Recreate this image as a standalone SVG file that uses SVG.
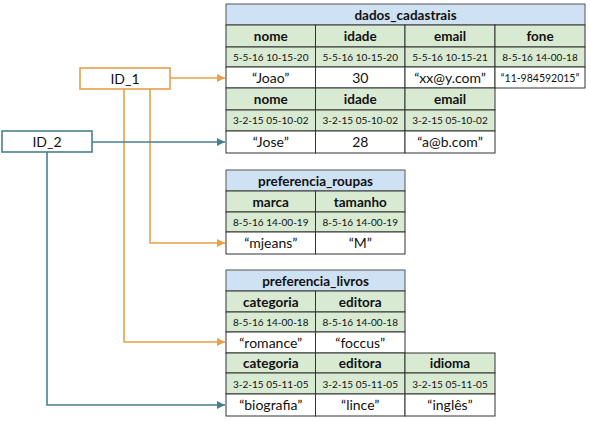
<svg xmlns="http://www.w3.org/2000/svg" width="591" height="421" viewBox="0 0 591 421">
<defs>
<style>
.t{fill:#cfe2f3;stroke:#555;stroke-width:1}
.h{fill:#d9ead3;stroke:#333;stroke-width:1}
.v{fill:#fff;stroke:#333;stroke-width:1}
text{font-family:Lato,"Open Sans","Liberation Sans",sans-serif;text-anchor:middle;fill:#111}
.b{font-weight:bold;font-size:13.5px}
.s{font-size:10px}
.n{font-size:14px}
.f{font-size:10.5px}
.o{stroke:#e8a04a;stroke-width:1.6;fill:none}
.g{stroke:#4a7f8f;stroke-width:1.6;fill:none}
</style>
<marker id="ao" viewBox="0 0 10 10" refX="10" refY="5" markerWidth="10" markerHeight="8" markerUnits="userSpaceOnUse" orient="auto"><path d="M0,0L10,5L0,10z" fill="#e8a04a"/></marker>
<marker id="ag" viewBox="0 0 10 10" refX="10" refY="5" markerWidth="10" markerHeight="8" markerUnits="userSpaceOnUse" orient="auto"><path d="M0,0L10,5L0,10z" fill="#4a7f8f"/></marker>
</defs>

<g id="connectors">
<path class="o" d="M170,78H225" marker-end="url(#ao)"/>
<path class="o" d="M150,89V243H225" marker-end="url(#ao)"/>
<path class="o" d="M124,89V342H225" marker-end="url(#ao)"/>
<path class="g" d="M92,142H225" marker-end="url(#ag)"/>
<path class="g" d="M47,152V405H225" marker-end="url(#ag)"/>
</g>

<g id="ID_1">
<rect x="80" y="68" width="90" height="21" fill="#fff" stroke="#e8a04a" stroke-width="1.6"/>
<text class="n" x="125" y="83.5">ID_1</text>
</g>
<g id="ID_2">
<rect x="2" y="131" width="90" height="21" fill="#fff" stroke="#4a7f8f" stroke-width="1.6"/>
<text class="n" x="47" y="146.5">ID_2</text>
</g>

<g id="dados_cadastrais">
<rect class="t" x="226" y="4" width="359" height="21"/>
<text class="b" x="405.5" y="19.5">dados_cadastrais</text>
<rect class="h" x="226" y="25" width="89.5" height="22"/>
<rect class="h" x="315.5" y="25" width="89.5" height="22"/>
<rect class="h" x="405" y="25" width="90" height="22"/>
<rect class="h" x="495" y="25" width="90" height="22"/>
<text class="b" x="270.75" y="41">nome</text>
<text class="b" x="360.25" y="41">idade</text>
<text class="b" x="450" y="41">email</text>
<text class="b" x="540" y="41">fone</text>
<rect class="h" x="226" y="47" width="89.5" height="20"/>
<rect class="h" x="315.5" y="47" width="89.5" height="20"/>
<rect class="h" x="405" y="47" width="90" height="20"/>
<rect class="h" x="495" y="47" width="90" height="20"/>
<text class="s" x="270.75" y="61">5-5-16 10-15-20</text>
<text class="s" x="360.25" y="61">5-5-16 10-15-20</text>
<text class="s" x="450" y="61">5-5-16 10-15-21</text>
<text class="s" x="540" y="61">8-5-16 14-00-18</text>
<rect class="v" x="226" y="67" width="89.5" height="21"/>
<rect class="v" x="315.5" y="67" width="89.5" height="21"/>
<rect class="v" x="405" y="67" width="90" height="21"/>
<rect class="v" x="495" y="67" width="90" height="21"/>
<text class="n" x="270.75" y="82.5">“Joao”</text>
<text class="n" x="360.25" y="82.5">30</text>
<text class="n" x="450" y="82.5">“xx@y.com”</text>
<text class="f" x="540" y="81.5">“11-984592015”</text>
<rect class="h" x="226" y="88" width="89.5" height="22"/>
<rect class="h" x="315.5" y="88" width="89.5" height="22"/>
<rect class="h" x="405" y="88" width="90" height="22"/>
<text class="b" x="270.75" y="104">nome</text>
<text class="b" x="360.25" y="104">idade</text>
<text class="b" x="450" y="104">email</text>
<rect class="h" x="226" y="110" width="89.5" height="21"/>
<rect class="h" x="315.5" y="110" width="89.5" height="21"/>
<rect class="h" x="405" y="110" width="90" height="21"/>
<text class="s" x="270.75" y="124">3-2-15 05-10-02</text>
<text class="s" x="360.25" y="124">3-2-15 05-10-02</text>
<text class="s" x="450" y="124">3-2-15 05-10-02</text>
<rect class="v" x="226" y="131" width="89.5" height="22"/>
<rect class="v" x="315.5" y="131" width="89.5" height="22"/>
<rect class="v" x="405" y="131" width="90" height="22"/>
<text class="n" x="270.75" y="147">“Jose”</text>
<text class="n" x="360.25" y="147">28</text>
<text class="n" x="450" y="147">“a@b.com”</text>
</g>

<g id="preferencia_roupas">
<rect class="t" x="226" y="170" width="179" height="21"/>
<text class="b" x="315.5" y="185.5">preferencia_roupas</text>
<rect class="h" x="226" y="191" width="89.5" height="21"/>
<rect class="h" x="315.5" y="191" width="89.5" height="21"/>
<text class="b" x="270.75" y="206.5">marca</text>
<text class="b" x="360.25" y="206.5">tamanho</text>
<rect class="h" x="226" y="212" width="89.5" height="20"/>
<rect class="h" x="315.5" y="212" width="89.5" height="20"/>
<text class="s" x="270.75" y="226">8-5-16 14-00-19</text>
<text class="s" x="360.25" y="226">8-5-16 14-00-19</text>
<rect class="v" x="226" y="232" width="89.5" height="22"/>
<rect class="v" x="315.5" y="232" width="89.5" height="22"/>
<text class="n" x="270.75" y="248">“mjeans”</text>
<text class="n" x="360.25" y="248">“M”</text>
</g>

<g id="preferencia_livros">
<rect class="t" x="226" y="270" width="179" height="21"/>
<text class="b" x="315.5" y="285.5">preferencia_livros</text>
<rect class="h" x="226" y="291" width="89.5" height="21"/>
<rect class="h" x="315.5" y="291" width="89.5" height="21"/>
<text class="b" x="270.75" y="306.5">categoria</text>
<text class="b" x="360.25" y="306.5">editora</text>
<rect class="h" x="226" y="312" width="89.5" height="20"/>
<rect class="h" x="315.5" y="312" width="89.5" height="20"/>
<text class="s" x="270.75" y="326">8-5-16 14-00-18</text>
<text class="s" x="360.25" y="326">8-5-16 14-00-18</text>
<rect class="v" x="226" y="332" width="89.5" height="21"/>
<rect class="v" x="315.5" y="332" width="89.5" height="21"/>
<text class="n" x="270.75" y="347.5">“romance”</text>
<text class="n" x="360.25" y="347.5">“foccus”</text>
<rect class="h" x="226" y="353" width="89.5" height="20"/>
<rect class="h" x="315.5" y="353" width="89.5" height="20"/>
<rect class="h" x="405" y="353" width="90" height="20"/>
<text class="b" x="270.75" y="368">categoria</text>
<text class="b" x="360.25" y="368">editora</text>
<text class="b" x="450" y="368">idioma</text>
<rect class="h" x="226" y="373" width="89.5" height="21"/>
<rect class="h" x="315.5" y="373" width="89.5" height="21"/>
<rect class="h" x="405" y="373" width="90" height="21"/>
<text class="s" x="270.75" y="387.5">3-2-15 05-11-05</text>
<text class="s" x="360.25" y="387.5">3-2-15 05-11-05</text>
<text class="s" x="450" y="387.5">3-2-15 05-11-05</text>
<rect class="v" x="226" y="394" width="89.5" height="22"/>
<rect class="v" x="315.5" y="394" width="89.5" height="22"/>
<rect class="v" x="405" y="394" width="90" height="22"/>
<text class="n" x="270.75" y="410">“biografia”</text>
<text class="n" x="360.25" y="410">“lince”</text>
<text class="n" x="450" y="410">“inglês”</text>
</g>
</svg>
